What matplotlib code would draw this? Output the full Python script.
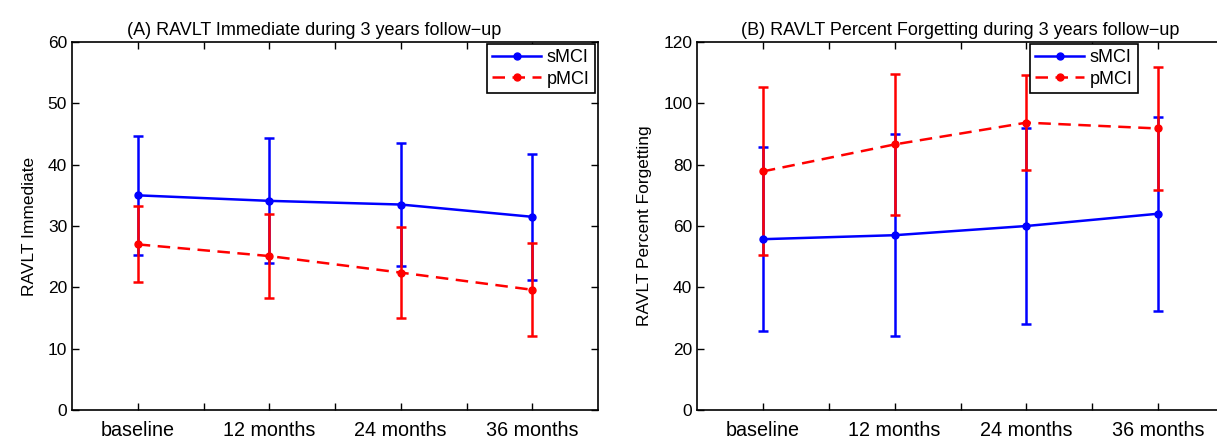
import matplotlib
matplotlib.use('Agg')
import matplotlib.pyplot as plt

plt.rcParams['font.family'] = ['Liberation Sans', 'DejaVu Sans']

timepoints = ['baseline', '12 months', '24 months', '36 months']

# (A) RAVLT Immediate
immediate_smci = [35.0, 34.1, 33.5, 31.5]
immediate_smci_err = [9.7, 10.2, 10.1, 10.3]
immediate_pmci = [27.0, 25.1, 22.4, 19.6]
immediate_pmci_err = [6.2, 6.8, 7.4, 7.6]

# (B) RAVLT Percent Forgetting
forget_smci = [55.7, 57.0, 60.0, 64.0]
forget_smci_err = [30.0, 33.0, 32.0, 31.7]
forget_pmci = [77.8, 86.6, 93.7, 91.8]
forget_pmci_err = [27.4, 22.9, 15.6, 20.0]


def draw_panel(ax, smci, smci_err, pmci, pmci_err, title, title_x, ylabel, ymax, ystep, legend_x):
	x = list(range(1, len(timepoints) + 1))
	for vals, errs, col, ls, name in [(smci, smci_err, '#0000ff', '-', 'sMCI'),
			(pmci, pmci_err, '#ff0000', (0, (5, 3)), 'pMCI')]:
		ax.errorbar(x, vals, yerr=errs, fmt='none', ecolor=col, elinewidth=1.8,
			capsize=3.5, capthick=1.8, zorder=3)
		ax.plot(x, vals, color=col, lw=1.8, ls=ls, marker='o', ms=5, label=name, zorder=4)

	ax.set_xlim(0.5, 4.5)
	ax.set_ylim(0, ymax)
	ax.set_yticks(range(0, ymax + 1, ystep))
	ax.set_xticks([1, 1.5, 2, 2.5, 3, 3.5, 4])
	ax.set_xticklabels(['baseline', '', '12 months', '', '24 months', '', '36 months'])
	ax.tick_params(direction='in', top=True, right=True, length=5, width=1, labelsize=12.5)
	ax.tick_params(axis='x', pad=8, labelsize=14.2)
	for s in ax.spines.values():
		s.set_linewidth(1.2)

	ax.set_title(title, fontsize=13, pad=5, x=title_x)
	ax.set_ylabel(ylabel, fontsize=12.5, labelpad=8)

	leg = ax.legend(loc='upper right', bbox_to_anchor=(legend_x, 1.0), fontsize=13,
		fancybox=False, framealpha=1, edgecolor='black', handlelength=2.7,
		borderpad=0.3, labelspacing=0.25, handletextpad=0.3, borderaxespad=0.1)
	leg.get_frame().set_linewidth(1.2)


fig = plt.figure(figsize=(12.17, 4.41), dpi=100)
W, H = 1217.0, 441.0

ax1 = fig.add_axes([72 / W, 1 - 410 / H, 526 / W, 368 / H])
draw_panel(ax1, immediate_smci, immediate_smci_err, immediate_pmci, immediate_pmci_err,
	'(A) RAVLT Immediate during 3 years follow\u2212up', 0.46, 'RAVLT Immediate', 60, 10, 0.997)

ax2 = fig.add_axes([697 / W, 1 - 410 / H, 527 / W, 368 / H])
draw_panel(ax2, forget_smci, forget_smci_err, forget_pmci, forget_pmci_err,
	'(B) RAVLT Percent Forgetting during 3 years follow\u2212up', 0.5, 'RAVLT Percent Forgetting',
	120, 20, 0.84)

fig.savefig('out.png', dpi=100)
